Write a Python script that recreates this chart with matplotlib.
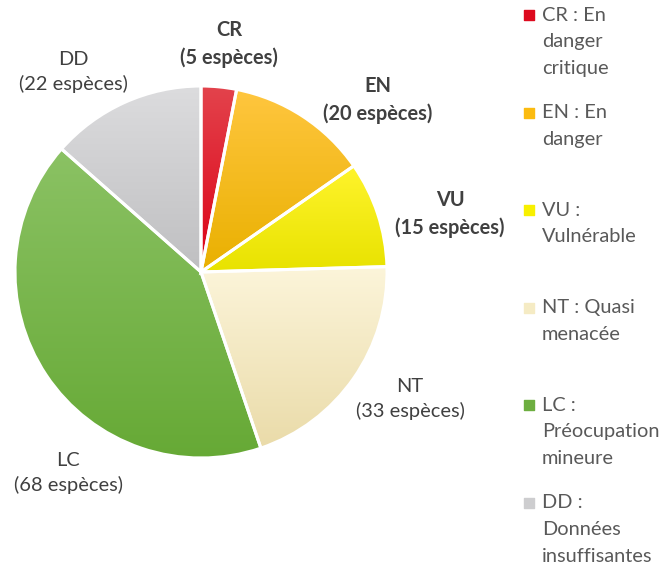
import numpy as np
import matplotlib
matplotlib.use('Agg')
import matplotlib.pyplot as plt
from matplotlib.colors import to_rgb

plt.rcParams['font.family'] = ['Lato', 'DejaVu Sans']

# IUCN categories and number of species in each
codes = ['CR', 'EN', 'VU', 'NT', 'LC', 'DD']
counts = [5, 20, 15, 33, 68, 22]
legend_labels = ['CR : En\ndanger\ncritique', 'EN : En\ndanger',
                 'VU :\nVulnérable', 'NT : Quasi\nmenacée',
                 'LC :\nPréocupation\nmineure', 'DD :\nDonnées\ninsuffisantes']
bold_labels = [True, True, True, False, False, False]

# gradient colours (top, bottom) for each slice, plus a legend swatch
top_colors = ['#E3434C', '#FFC63F', '#FFF42C', '#FCF5DA', '#8BC264', '#DCDCDE']
bottom_colors = ['#DC0015', '#E9B000', '#E8E200', '#EADBA9', '#66A935', '#BFBFC1']
swatch_colors = ['#DD0A1E', '#FBBB10', '#F8F000', '#F5EBC4', '#6DAE40', '#CDCDCF']

W, H = 665, 567
FS = 14.4       # font size (pt)
LS = 1.68       # legend line spacing -> ~27 px between lines
LINE = 27       # px between text lines

fig = plt.figure(figsize=(W / 100, H / 100), dpi=100)
ax = fig.add_axes([0, 0, 1, 1])

# pie centre and radius in pixel units (y measured from bottom)
cx, cy, R = 201, H - 272, 186
wedges, _ = ax.pie(counts, center=(cx, cy), radius=R, startangle=90,
                   counterclock=False, colors=swatch_colors,
                   wedgeprops=dict(edgecolor='white', linewidth=2.2),
                   frame=True)
ax.set_xlim(0, W)
ax.set_ylim(0, H)
ax.set_aspect('equal')
ax.axis('off')

# vertical gradient inside each slice
for w, ct, cb in zip(wedges, top_colors, bottom_colors):
    verts = w.get_patch_transform().transform(w.get_path().vertices)
    x0, x1 = verts[:, 0].min(), verts[:, 0].max()
    y0, y1 = verts[:, 1].min(), verts[:, 1].max()
    t = np.linspace(0, 1, 200)[:, None]
    grad = (1 - t) * np.array(to_rgb(cb)) + t * np.array(to_rgb(ct))
    im = ax.imshow(grad[:, None, :], extent=(x0, x1, y0, y1), origin='lower',
                   aspect='auto', zorder=1, interpolation='bilinear')
    im.set_clip_path(w)
    w.set_facecolor('none')
    w.set_zorder(2)

# data labels (centre of the two-line block)
label_pos = [(229, 44), (378, 100), (450, 214), (410, 399),
             (68, 473), (73, 72)]
for code, n, bold, (lx, ly) in zip(codes, counts, bold_labels, label_pos):
    ax.text(lx, H - ly, f'{code}\n({n} espèces)', ha='center', va='center',
            fontsize=FS, color='#404040', linespacing=1.5,
            fontweight='bold' if bold else 'normal')

# legend drawn by hand: entries evenly spaced from the top
for i, (lab, sc) in enumerate(zip(legend_labels, swatch_colors)):
    first = 15 + i * 97.5
    nlines = lab.count('\n') + 1
    ax.scatter([529], [H - first], marker='s', s=60, color=sc, zorder=3)
    ax.text(542, H - (first + (nlines - 1) * LINE / 2), lab, ha='left',
            va='center', fontsize=FS, color='#595959', linespacing=LS)

fig.savefig('out.png', dpi=100)
